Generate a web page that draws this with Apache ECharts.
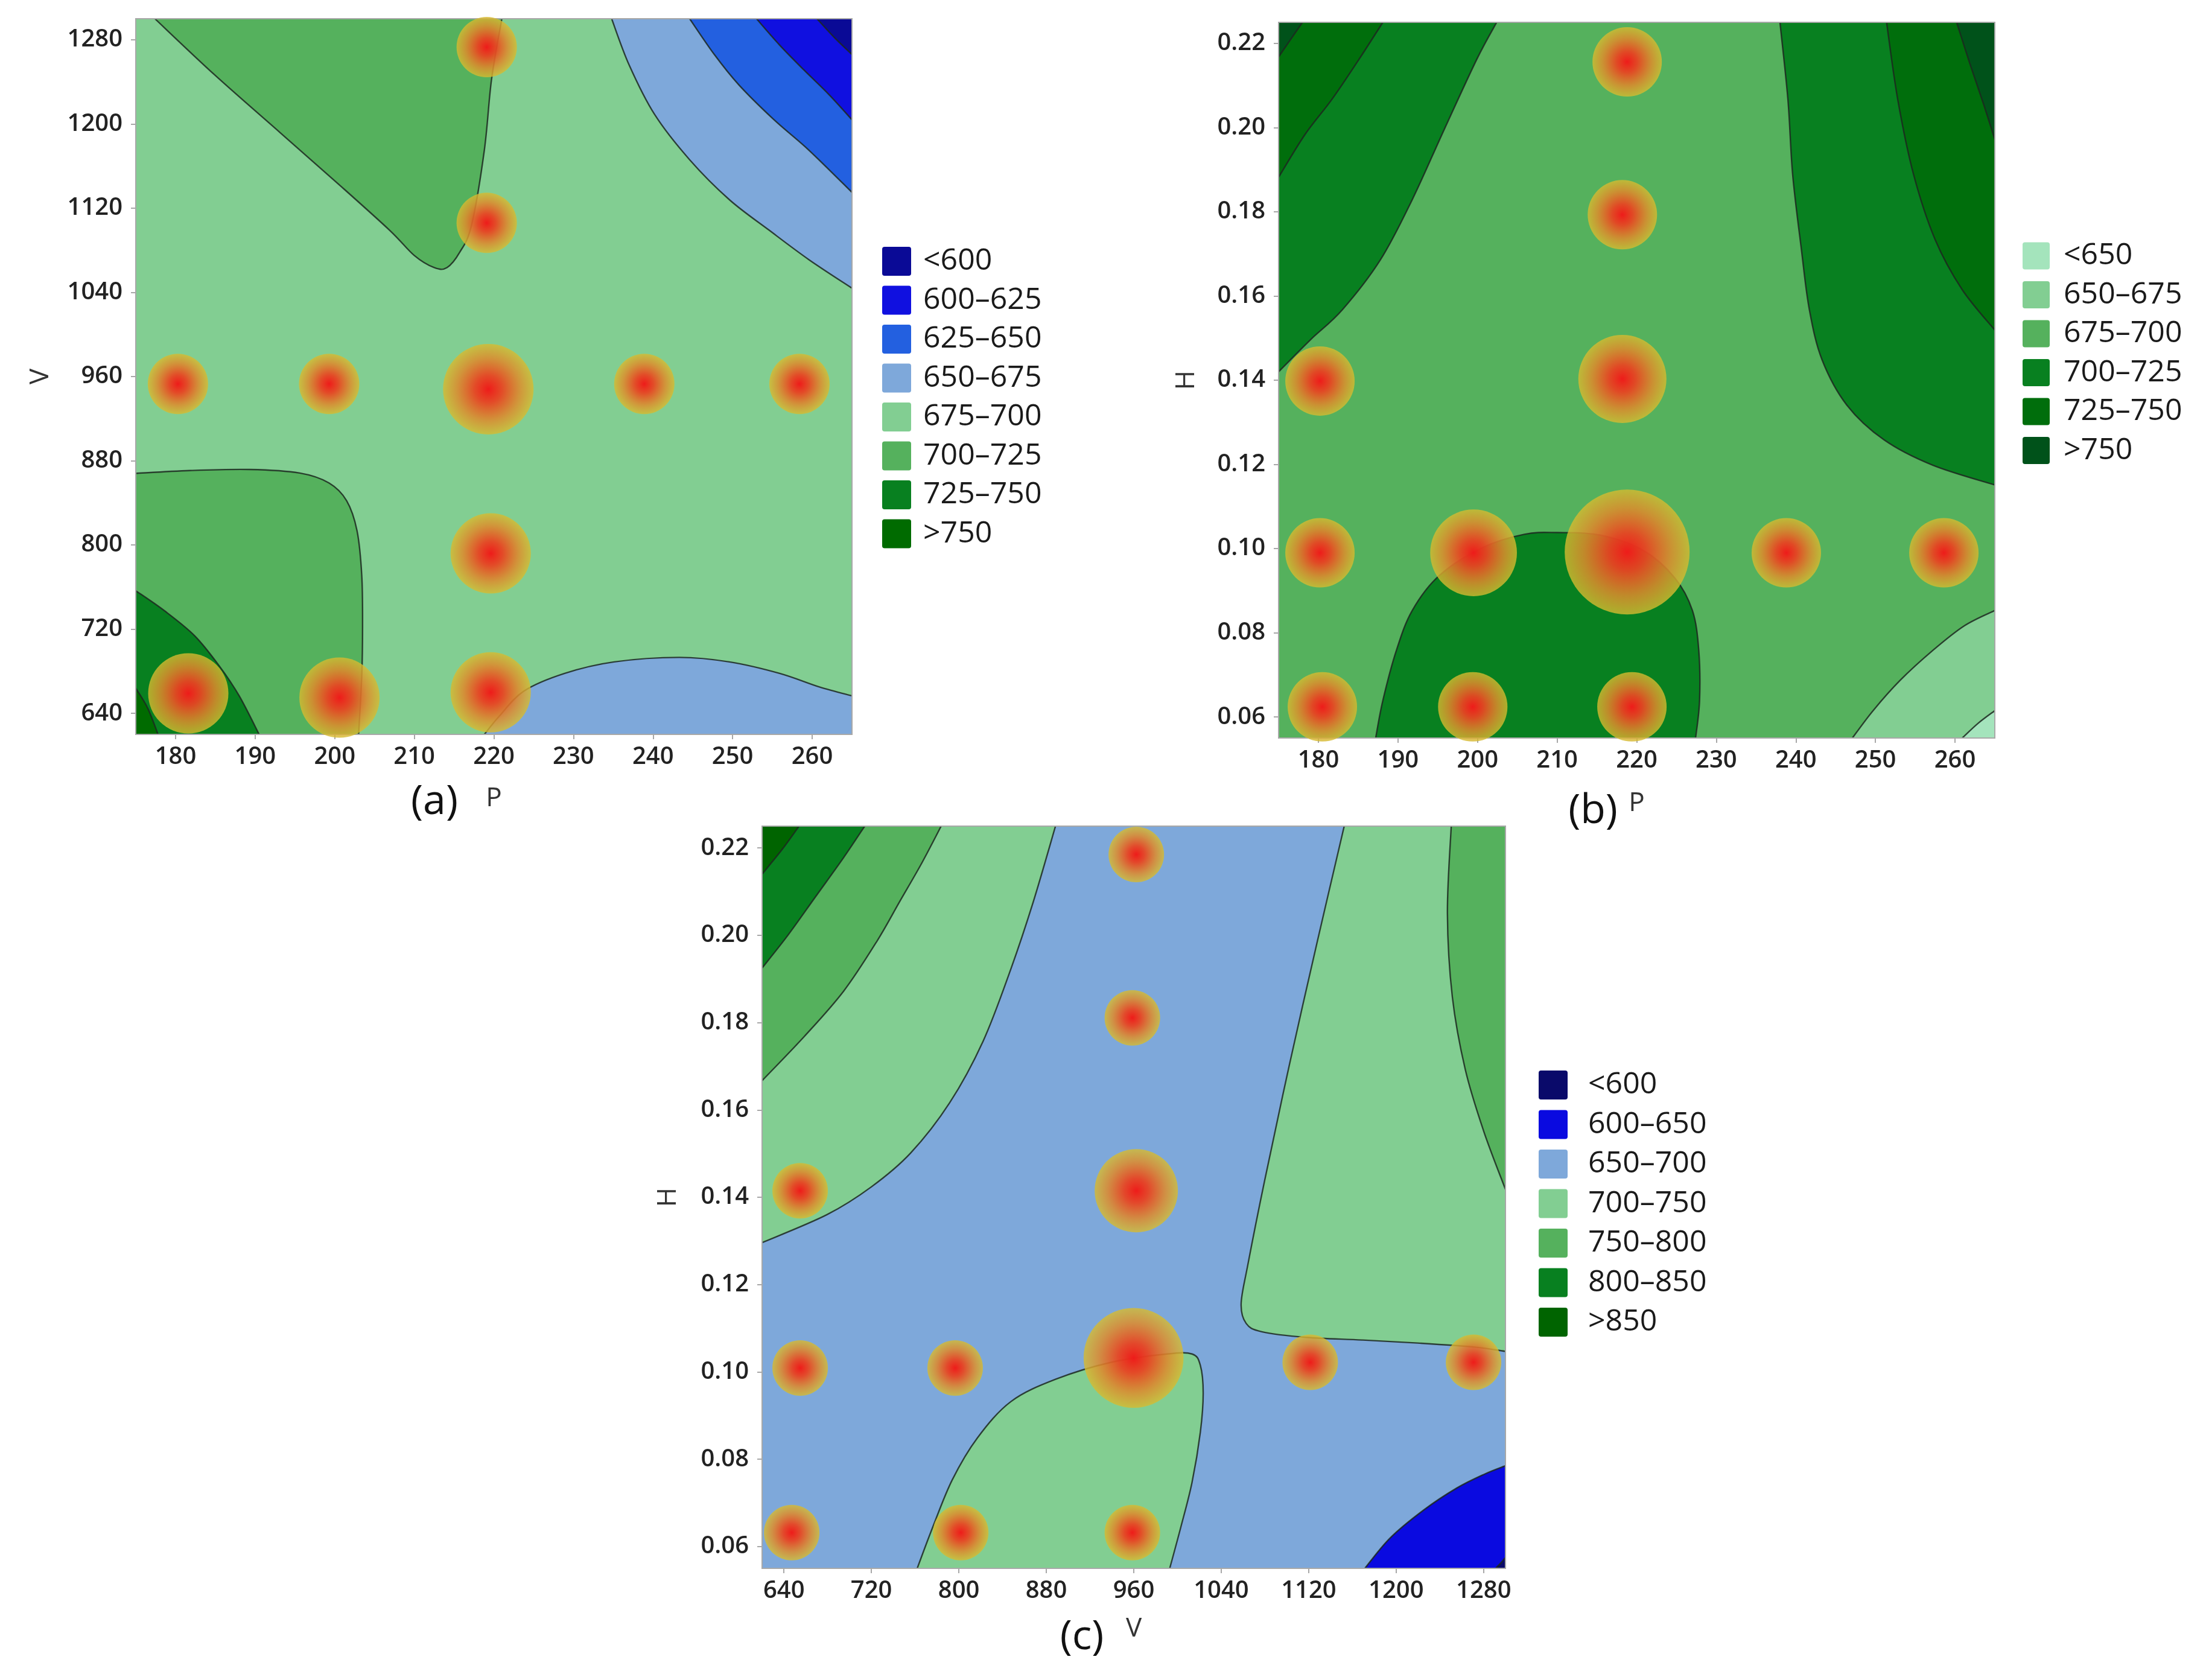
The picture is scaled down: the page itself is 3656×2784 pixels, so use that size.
<!DOCTYPE html>
<html><head><meta charset="utf-8">
<script src="https://cdn.jsdelivr.net/npm/echarts@6/dist/echarts.min.js"></script>
<style>html,body{margin:0;padding:0;background:#fff}#chart{width:3656px;height:2784px}</style>
</head><body><div id="chart"></div>
<script>
// ---------------- Panel (a): P vs V ----------------
const a_xTicks = [180,190,200,210,220,230,240,250,260];
const a_yTicks = [640,720,800,880,960,1040,1120,1200,1280];
const a_legendLabels = ['<600','600–625','625–650','650–675','675–700','700–725','725–750','>750'];
const a_bubbleP = [219.1,219.1,180.3,199.3,219.3,238.9,258.4,219.6,181.6,200.6,219.6];
const a_bubbleV = [1273,1106,953,953,948,953,953,792,659,655,660];
const a_bubbleW = [1,1,1,1,1.5,1,1,1.33,1.33,1.33,1.33];
const a_c700_top = [[177.4,1300],[184.9,1246.7],[193.1,1192],[200.6,1142],[206.9,1099],[210.0,1075],[212.5,1063.5],[214.1,1063.5],[215.7,1078],[217.2,1104],[218.8,1175],[219.7,1242],[221.0,1300]];
const a_c650_tr = [[234.8,1300],[237.0,1256],[240.2,1209],[244.6,1166],[249.6,1128],[254.6,1099],[259.6,1071],[265,1044]];
const a_c625_tr = [[244.6,1300],[247.7,1266],[250.8,1237],[255.2,1204],[259.6,1175],[265,1135]];
const a_c600_tr = [[253.0,1300],[255.9,1275],[259.0,1251],[262.1,1228],[265,1204]];
const a_c575_tr = [[260.6,1300],[262.8,1282],[265,1266]];
const a_c700_bl = [[175,868],[181.8,870.7],[189.3,871.7],[195.6,868.3],[199.3,858.8],[201.5,842],[202.8,813.6],[203.4,770.8],[203.5,723],[203.4,675.6],[203.0,620]];
const a_c725_bl = [[175,756.5],[178.6,737.5],[182.4,713.7],[185.5,685],[188,656.6],[190.5,620]];
const a_c750_bl = [[175,664],[176.5,645],[177.8,620]];
const a_c650_br = [[218.8,620],[220.7,637.5],[223.8,661.3],[228.9,678],[235.1,688.9],[243.3,693.2],[249.6,688.9],[255.9,678],[260.9,665.1],[265,656.6]];

// ---------------- Panel (b): P vs H ----------------
const b_xTicks = [180,190,200,210,220,230,240,250,260];
const b_yTicks = [0.06,0.08,0.10,0.12,0.14,0.16,0.18,0.20,0.22];
const b_legendLabels = ['<650','650–675','675–700','700–725','725–750','>750'];
const b_bubbleP = [218.8,218.2,218.2,180.2,180.2,199.5,218.8,238.8,258.6,180.5,199.4,219.4];
const b_bubbleH = [0.2156,0.1793,0.1403,0.1398,0.0990,0.0990,0.0992,0.0990,0.0990,0.0624,0.0624,0.0624];
const b_bubbleW = [1,1,1.27,1,1,1.25,1.8,1,1,1,1,1];
const b_c700_l = [[202.4,0.225],[199.9,0.2162],[195.8,0.1995],[191.8,0.1829],[187.8,0.1686],[183.0,0.1567],[179.0,0.1496],[175,0.1420]];
const b_c725_l = [[188.1,0.225],[185.1,0.2162],[181.7,0.2067],[178.3,0.1983],[175,0.1882]];
const b_c750_l = [[178.0,0.225],[176.5,0.2209],[175,0.2168]];
const b_c700_r = [[238.0,0.225],[239.0,0.2067],[239.6,0.1888],[240.7,0.1710],[241.7,0.1567],[243.3,0.1448],[246.4,0.1341],[251.1,0.1258],[257.2,0.1198],[265,0.1151]];
const b_c725_r = [[251.4,0.225],[252.8,0.2067],[254.8,0.1888],[257.5,0.1734],[260.9,0.1615],[265,0.1519]];
const b_c750_r = [[260.2,0.225],[261.9,0.2150],[263.6,0.2055],[265,0.1972]];
const b_c700_b = [[187.2,0.055],[188.1,0.0639],[189.8,0.0758],[191.8,0.0853],[195.2,0.0936],[200.6,0.1002],[205.9,0.1034],[210.0,0.1038],[215.4,0.1032],[220.8,0.0996],[224.8,0.0930],[227.0,0.0853],[227.8,0.0758],[227.9,0.0639],[227.4,0.055]];
const b_c650_br = [[247.1,0.055],[249.7,0.0615],[253.1,0.0687],[257.2,0.0758],[261.2,0.0817],[265,0.0853]];
const b_c625_br = [[260.9,0.055],[262.9,0.0585],[265,0.0615]];

// ---------------- Panel (c): V vs H ----------------
const c_xTicks = [640,720,800,880,960,1040,1120,1200,1280];
const c_yTicks = [0.06,0.08,0.10,0.12,0.14,0.16,0.18,0.20,0.22];
const c_legendLabels = ['<600','600–650','650–700','700–750','750–800','800–850','>850'];
const c_bubbleV = [962.3,958.7,962.3,654.8,654.8,796.6,959.8,1121.4,1270.8,647.1,801.7,958.7];
const c_bubbleH = [0.2185,0.1811,0.1415,0.1415,0.1009,0.1009,0.1032,0.1022,0.1022,0.0632,0.0632,0.0632];
const c_bubbleW = [1,1,1.5,1,1,1,1.8,1,1,1,1,1];
const c_c700_tl = [[888.4,0.225],[868.0,0.2076],[847.6,0.1923],[822.1,0.1757],[791.5,0.1616],[755.8,0.1501],[720.1,0.1424],[679.3,0.1360],[620,0.1296]];
const c_c750_tl = [[783.8,0.225],[766.0,0.2165],[745.6,0.2076],[725.2,0.1987],[694.6,0.1872],[658.9,0.1769],[620,0.1667]];
const c_c800_tl = [[713.9,0.225],[694.6,0.2178],[669.1,0.2089],[643.6,0.2000],[620,0.1925]];
const c_c850_tl = [[653.8,0.225],[638.5,0.2197],[620,0.2140]];
const c_c700_r = [[1152.5,0.225],[1128.0,0.1987],[1102.5,0.1705],[1079.6,0.1437],[1064.3,0.1245],[1058.2,0.1156],[1062.8,0.1111],[1077.0,0.1092],[1117.8,0.1079],[1168.8,0.1073],[1219.8,0.1066],[1270.8,0.1057],[1300,0.1047]];
const c_c750_r = [[1250.4,0.225],[1246.9,0.2050],[1251.4,0.1859],[1263.2,0.1693],[1280.0,0.1552],[1300,0.1418]];
const c_c700_b = [[761.9,0.055],[776.2,0.0645],[794.0,0.0753],[817.0,0.0849],[847.6,0.0932],[888.4,0.0983],[939.4,0.1022],[990.3,0.1041],[1013.3,0.1041],[1020.9,0.1015],[1023.5,0.0951],[1020.9,0.0862],[1013.3,0.0747],[1003.1,0.0645],[992.9,0.055]];
const c_c600_br = [[1171.4,0.055],[1194.3,0.0619],[1224.9,0.0683],[1255.5,0.0734],[1281.0,0.0766],[1300,0.0785]];
const c_c550_br = [[1291,0.055],[1296,0.0563],[1300,0.0575]];

// ---------------- styles ----------------
const A_COL = ['#0a0a96','#1010e0','#2360e0','#7ea8da','#82ce92','#55b15d','#088020','#006b00'];
const B_COL = ['#a4e4bc','#82ce92','#55b15d','#088020','#006e0c','#00521a'];
const C_COL = ['#0a0a6a','#0a0ae0','#7ea8da','#82ce92','#55b15d','#088020','#006400'];
const FONT = "'Open Sans','Noto Sans',sans-serif";
const LINE = 'rgba(28,40,32,0.85)';

const A_RANGE = {x:[175,265], y:[620,1300]};
const B_RANGE = {x:[175,265], y:[0.055,0.225]};
const C_RANGE = {x:[620,1300], y:[0.055,0.225]};

const A_REGIONS = [
  {bg:true, color:A_COL[4]},
  {curve:a_c700_top, close:[], color:A_COL[5]},
  {curve:a_c650_tr, close:[[265,1300]], color:A_COL[3]},
  {curve:a_c625_tr, close:[[265,1300]], color:A_COL[2]},
  {curve:a_c600_tr, close:[[265,1300]], color:A_COL[1]},
  {curve:a_c575_tr, close:[[265,1300]], color:A_COL[0]},
  {curve:a_c700_bl, close:[[175,620]], color:A_COL[5]},
  {curve:a_c725_bl, close:[[175,620]], color:A_COL[6]},
  {curve:a_c750_bl, close:[[175,620]], color:A_COL[7]},
  {curve:a_c650_br, close:[[265,620]], color:A_COL[3]},
  {frame:true}
];
const B_REGIONS = [
  {bg:true, color:B_COL[2]},
  {curve:b_c700_l, close:[[175,0.225]], color:B_COL[3]},
  {curve:b_c725_l, close:[[175,0.225]], color:B_COL[4]},
  {curve:b_c750_l, close:[[175,0.225]], color:B_COL[5]},
  {curve:b_c700_r, close:[[265,0.225]], color:B_COL[3]},
  {curve:b_c725_r, close:[[265,0.225]], color:B_COL[4]},
  {curve:b_c750_r, close:[[265,0.225]], color:B_COL[5]},
  {curve:b_c700_b, close:[], color:B_COL[3]},
  {curve:b_c650_br, close:[[265,0.055]], color:B_COL[1]},
  {curve:b_c625_br, close:[[265,0.055]], color:B_COL[0]},
  {frame:true}
];
const C_REGIONS = [
  {bg:true, color:C_COL[2]},
  {curve:c_c700_tl, close:[[620,0.225]], color:C_COL[3]},
  {curve:c_c750_tl, close:[[620,0.225]], color:C_COL[4]},
  {curve:c_c800_tl, close:[[620,0.225]], color:C_COL[5]},
  {curve:c_c850_tl, close:[[620,0.225]], color:C_COL[6]},
  {curve:c_c700_r, close:[[1300,0.225]], color:C_COL[3]},
  {curve:c_c750_r, close:[[1300,0.225]], color:C_COL[4]},
  {curve:c_c700_b, close:[], color:C_COL[3]},
  {curve:c_c600_br, close:[[1300,0.055]], color:C_COL[1]},
  {curve:c_c550_br, close:[[1300,0.055]], color:C_COL[0]},
  {frame:true}
];

function f(n){return Math.round(n*100)/100;}
function splinePath(pts, closePts){
  let d = 'M' + f(pts[0][0]) + ',' + f(pts[0][1]);
  const t = 1/6;
  for (let i=0;i<pts.length-1;i++){
    const p0 = pts[i-1]||pts[i], p1 = pts[i], p2 = pts[i+1], p3 = pts[i+2]||pts[i+1];
    const c1 = [p1[0]+(p2[0]-p0[0])*t, p1[1]+(p2[1]-p0[1])*t];
    const c2 = [p2[0]-(p3[0]-p1[0])*t, p2[1]-(p3[1]-p1[1])*t];
    d += ' C' + f(c1[0])+','+f(c1[1])+' '+f(c2[0])+','+f(c2[1])+' '+f(p2[0])+','+f(p2[1]);
  }
  if (closePts){
    closePts.forEach(p=>{ d += ' L'+f(p[0])+','+f(p[1]); });
    d += ' Z';
  }
  return d;
}

function contourSeries(g, regions, range){
  return {
    type:'custom', coordinateSystem:'cartesian2d', xAxisIndex:g, yAxisIndex:g,
    silent:true, animation:false, z:2,
    data: regions.map(()=>[range.x[0], range.y[0]]),
    renderItem: function(params, api){
      const r = regions[params.dataIndex];
      const cs = params.coordSys;
      const clip = {type:'rect', shape:{x:cs.x, y:cs.y, width:cs.width, height:cs.height}};
      if (r.bg) return {type:'rect', shape:{x:cs.x, y:cs.y, width:cs.width, height:cs.height}, style:{fill:r.color}};
      if (r.frame) return {type:'rect', shape:{x:cs.x, y:cs.y, width:cs.width, height:cs.height}, style:{fill:null, stroke:'#a8a8a8', lineWidth:2}};
      const px = r.curve.map(p=>api.coord(p));
      const cp = r.close.map(p=>api.coord(p));
      return {type:'group', clipPath:clip, children:[
        {type:'path', shape:{pathData:splinePath(px, cp)}, style:{fill:r.color, stroke:null}},
        {type:'path', shape:{pathData:splinePath(px, null)}, style:{fill:null, stroke:LINE, lineWidth:2.4}}
      ]};
    }
  };
}

function bubbleGradient(){
  return new echarts.graphic.RadialGradient(0.5,0.5,0.5,[
    {offset:0, color:'rgba(238,28,26,1)'},
    {offset:0.3, color:'rgba(232,68,34,0.95)'},
    {offset:0.7, color:'rgba(222,140,44,0.86)'},
    {offset:1, color:'rgba(214,188,48,0.8)'}
  ]);
}
function bubbleSeries(g, xs, ys, ws, base){
  return {
    type:'scatter', xAxisIndex:g, yAxisIndex:g, silent:true, animation:false, z:5, clip:false,
    data: xs.map((x,i)=>[x, ys[i], ws[i]]),
    symbolSize: v=>v[2]*base,
    itemStyle:{color:bubbleGradient(), opacity:1}
  };
}

function axis(g, range, ticks, fmt, name, nameGap, isY){
  return {
    gridIndex:g, type:'value', min:range[0], max:range[1],
    name:name, nameLocation:'middle', nameGap:nameGap,
    nameTextStyle:{fontFamily:FONT, fontSize:44, color:'#333'},
    splitLine:{show:false},
    axisLine:{show:true, onZero:false, lineStyle:{color:'#a8a8a8', width:2}},
    axisTick:{show:true, length:8, customValues:ticks, lineStyle:{color:'#a8a8a8', width:2}},
    axisLabel:{show:true, customValues:ticks, formatter:fmt, fontFamily:FONT, fontSize:40, fontWeight:600, color:'#222', margin:isY?22:18}
  };
}
const fmtInt = v=>String(Math.round(v));
const fmt2 = v=>v.toFixed(2);

function legend(x, y0, step, size, textX, labels, colors){
  const els = [];
  labels.forEach((lab,i)=>{
    const cy = y0 + i*step;
    els.push({type:'rect', left:x, top:cy-size/2, shape:{width:size, height:size, r:4}, style:{fill:colors[i]}});
    els.push({type:'text', x:textX, y:cy, style:{text:lab, fontFamily:FONT, fontSize:50, fill:'#1a1a1a', align:'left', verticalAlign:'middle'}});
  });
  return els;
}
function panelLabel(cx, cy, text){
  return {type:'text', x:cx, y:cy, style:{text:text, fontFamily:FONT, fontSize:68, fill:'#111', align:'center', verticalAlign:'middle'}};
}

const option = {
  backgroundColor:'#fff',
  animation:false,
  grid:[
    {left:225, top:31, width:1187, height:1186},
    {left:2119, top:37, width:1187, height:1186},
    {left:1263, top:1369, width:1232, height:1230}
  ],
  xAxis:[
    axis(0, A_RANGE.x, a_xTicks, fmtInt, 'P', 84, false),
    axis(1, B_RANGE.x, b_xTicks, fmtInt, 'P', 86, false),
    axis(2, C_RANGE.x, c_xTicks, fmtInt, 'V', 78, false)
  ],
  yAxis:[
    axis(0, A_RANGE.y, a_yTicks, fmtInt, 'V', 136, true),
    axis(1, B_RANGE.y, b_yTicks, fmt2, 'H', 131, true),
    axis(2, C_RANGE.y, c_yTicks, fmt2, 'H', 134, true)
  ],
  series:[
    contourSeries(0, A_REGIONS, A_RANGE),
    contourSeries(1, B_REGIONS, B_RANGE),
    contourSeries(2, C_REGIONS, C_RANGE),
    bubbleSeries(0, a_bubbleP, a_bubbleV, a_bubbleW, 100),
    bubbleSeries(1, b_bubbleP, b_bubbleH, b_bubbleW, 115),
    bubbleSeries(2, c_bubbleV, c_bubbleH, c_bubbleW, 92)
  ],
  graphic:[].concat(
    legend(1462, 433, 64.5, 48, 1530, a_legendLabels, A_COL),
    legend(3352, 424, 64.5, 45, 3420, b_legendLabels, B_COL),
    legend(2550, 1798, 65.5, 48, 2632, c_legendLabels, C_COL),
    [panelLabel(720, 1330, '(a)'), panelLabel(2640, 1345, '(b)'), panelLabel(1793, 2714, '(c)')]
  )
};
const chart = echarts.init(document.getElementById('chart'), null, {renderer:'canvas'});
chart.setOption(option);
</script></body></html>
